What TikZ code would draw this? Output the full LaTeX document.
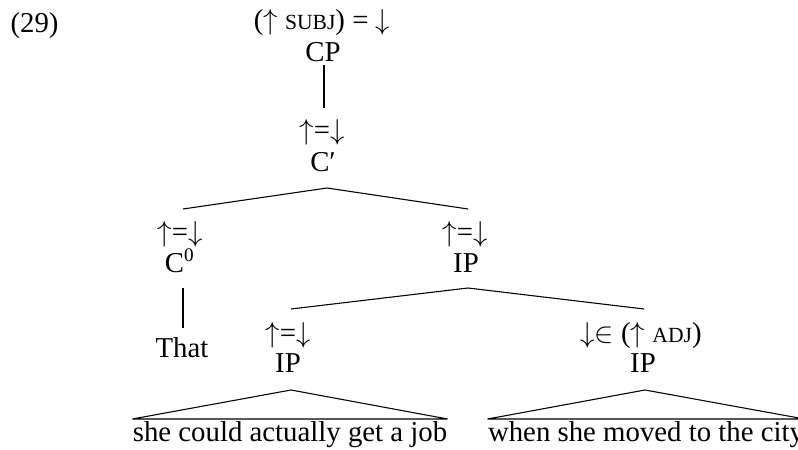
\documentclass[tikz,border=0pt]{standalone}
\usepackage{fontspec}
\setmainfont{Liberation Serif}
\usetikzlibrary{calc}
\newcommand\smcap[1]{{\fontsize{9}{10}\selectfont #1}}
\newcommand\upa{$\uparrow$}
\newcommand\dna{$\downarrow$}
\begin{document}
\begin{tikzpicture}[x=0.41667pt,y=-0.41667pt,
  every node/.style={inner sep=0pt, anchor=base, font=\fontsize{12}{14}\selectfont},
  edge/.style={line width=0.45pt}]
\useasboundingbox (0,0) rectangle (798,450);
\node (ex) at (34.5,33) {(29)};
\node (cplab) at (322,30) {(\upa{} \smcap{SUBJ}) = \dna};
\node (cp) at (323,62) {CP};
\node (cbarlab) at (322,140) {\upa=\dna};
\node (cbar) at (323,172) {C′};
\node (c0lab) at (180,242) {\upa=\dna};
\node (c0) at (180,272) {C\textsuperscript{0}};
\node (that) at (182,357) {That};
\node (iplab) at (465,242) {\upa=\dna};
\node (ip) at (466,272) {IP};
\node (ipalab) at (288,342) {\upa=\dna};
\node (ipa) at (288,372) {IP};
\node (ipblab) at (641,342) {\dna$\in$ (\upa{} \smcap{ADJ})};
\node (ipb) at (643,372) {IP};
\node (sa) at (290,441) {she could actually get a job};
\node (sb) at (646,441) {when she moved to the city};
% edges
\draw[edge] ($(cp.base)+(1,3)$) -- ($(cbarlab.base)+(2,-32)$);
\draw[edge] ($(c0lab.base)+(3,-33)$) -- ($(cbar.base)+(4,16)$) -- ($(iplab.base)+(3,-33)$);
\draw[edge] ($(c0.base)+(3,16)$) -- ($(that.base)+(1,-29)$);
\draw[edge] ($(ipalab.base)+(3,-33)$) -- ($(ip.base)+(2,16)$) -- ($(ipblab.base)+(3,-33)$);
\draw[edge] ($(sa.base west)+(0,-22)$) -- ($(ipa.base)+(3,18)$) -- ($(sa.base east)+(0,-22)$) -- cycle;
\draw[edge] ($(sb.base west)+(0,-22)$) -- ($(ipb.base)+(2,18)$) -- ($(sb.base east)+(0,-22)$) -- cycle;
\end{tikzpicture}
\end{document}
